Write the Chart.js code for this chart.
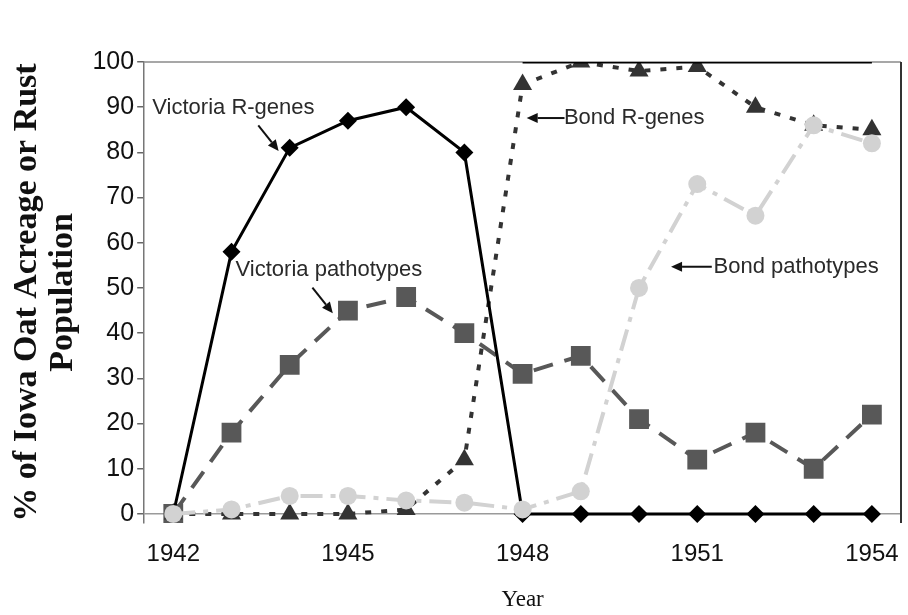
<!DOCTYPE html>
<html><head><meta charset="utf-8">
<script src="https://cdn.jsdelivr.net/npm/chart.js@4"></script>
<style>html,body{margin:0;padding:0;background:#fff}#wrap{width:908px;height:615px;position:relative}</style>
</head><body><div id="wrap"><canvas id="c"></canvas></div>
<script>
// ---- data ----
const years = ['1942','1943','1944','1945','1946','1947','1948','1949','1950','1951','1952','1953','1954'];
const xTickEvery = 3;
const yTickValues = [0,10,20,30,40,50,60,70,80,90,100];
const victoriaRGenes     = [0,58,81,87,90,80,0,0,0,0,0,0,0];
const victoriaPathotypes = [0,18,33,45,48,40,31,35,21,12,18,10,22];
const bondRGenes         = [0,0,0,0,1,12,95,100,98,99,90,86,85];
const bondPathotypes     = [0,1,4,4,3,2.5,1,5,50,73,66,86,82];
const topLine            = [null,null,null,null,null,null,100,100,100,100,100,100,100];

// ---- annotations (category index, value) ----
const noteTexts = ['Victoria R-genes','Victoria pathotypes','Bond R-genes','Bond pathotypes'];
const noteAt    = [[-0.36,89.8],[1.07,54.1],[6.71,87.6],[9.28,54.7]];
const arrowFrom = [[1.46,86.0],[2.39,50.1],[6.72,87.6],[9.25,54.7]];
const arrowTo   = [[1.81,80.3],[2.74,44.4],[6.07,87.6],[8.55,54.7]];

const annotationPlugin = {
  id: 'notes',
  afterDatasetsDraw(chart) {
    const {ctx, scales:{x, y}} = chart;
    ctx.save();
    ctx.font = '22px "Liberation Sans", Arial, sans-serif';
    ctx.fillStyle = '#2a2a2a';
    ctx.textBaseline = 'middle';
    ctx.textAlign = 'left';
    noteTexts.forEach((t, i) => {
      ctx.fillText(t, x.getPixelForValue(noteAt[i][0]), y.getPixelForValue(noteAt[i][1]));
    });
    ctx.strokeStyle = '#111';
    ctx.fillStyle = '#111';
    ctx.lineWidth = 2;
    arrowFrom.forEach((f, i) => {
      const x1 = x.getPixelForValue(f[0]), y1 = y.getPixelForValue(f[1]);
      const x2 = x.getPixelForValue(arrowTo[i][0]), y2 = y.getPixelForValue(arrowTo[i][1]);
      const a = Math.atan2(y2 - y1, x2 - x1);
      const hl = 11, hw = 5;
      const bx = x2 - hl * Math.cos(a), by = y2 - hl * Math.sin(a);
      ctx.beginPath(); ctx.moveTo(x1, y1); ctx.lineTo(bx, by); ctx.stroke();
      ctx.beginPath();
      ctx.moveTo(x2, y2);
      ctx.lineTo(bx + hw * Math.sin(a), by - hw * Math.cos(a));
      ctx.lineTo(bx - hw * Math.sin(a), by + hw * Math.cos(a));
      ctx.closePath(); ctx.fill();
    });
    ctx.restore();
  }
};

const framePlugin = {
  id: 'frame',
  beforeDatasetsDraw(chart) {
    const {ctx, chartArea:a} = chart;
    ctx.save();
    ctx.strokeStyle = '#8a8a8a';
    ctx.lineWidth = 1.5;
    ctx.beginPath();
    ctx.moveTo(a.left, a.top); ctx.lineTo(a.right, a.top); ctx.stroke();
    ctx.strokeStyle = '#333';
    ctx.lineWidth = 2;
    ctx.beginPath();
    ctx.moveTo(a.right, a.top); ctx.lineTo(a.right, a.bottom); ctx.stroke();
    ctx.restore();
  }
};

new Chart(document.getElementById('c'), {
  type: 'line',
  data: {
    labels: years,
    datasets: [
      { label: 'Bond pathotypes', data: bondPathotypes, order: 0,
        borderColor: '#d2d2d2', backgroundColor: '#d2d2d2', borderWidth: 4,
        borderDash: [22, 8, 5, 8], pointStyle: 'circle', pointRadius: 9,
        pointBorderWidth: 0, pointBackgroundColor: '#d2d2d2' },
      { label: 'Victoria R-genes', data: victoriaRGenes, order: 1,
        borderColor: '#000', backgroundColor: '#000', borderWidth: 3,
        pointStyle: 'rectRot', pointRadius: 9, pointBorderWidth: 0, pointBackgroundColor: '#000' },
      { label: 'Top', data: topLine, order: 2,
        borderColor: '#000', borderWidth: 3, pointRadius: 0 },
      { label: 'Bond R-genes', data: bondRGenes, order: 3,
        borderColor: '#333', backgroundColor: '#333', borderWidth: 4,
        borderDash: [6, 10], pointStyle: 'triangle', pointRadius: 11,
        pointBorderWidth: 0, pointBackgroundColor: '#333' },
      { label: 'Victoria pathotypes', data: victoriaPathotypes, order: 4,
        borderColor: '#585858', backgroundColor: '#585858', borderWidth: 4,
        borderDash: [20, 12], pointStyle: 'rect', pointRadius: 14,
        pointBorderWidth: 0, pointBackgroundColor: '#585858' }
    ]
  },
  options: {
    responsive: true, maintainAspectRatio: false, animation: false,
    layout: { autoPadding: false, padding: { left: 8.7, right: 7, top: 62, bottom: 1 } },
    plugins: { legend: { display: false }, tooltip: { enabled: false } },
    scales: {
      x: {
        offset: true,
        grid: { display: true, drawOnChartArea: false, drawTicks: true, tickLength: 8, color: 'rgba(0,0,0,0)' },
        border: { display: false },
        ticks: {
          autoSkip: false, maxRotation: 0, padding: 9, color: '#111',
          font: { family: '"Liberation Sans", Arial, sans-serif', size: 24 },
          callback: (v, i) => (i % xTickEvery === 0 ? years[i] : '')
        },
        title: { display: true, text: 'Year', color: '#111', padding: { top: 8.6, bottom: 0 },
          font: { family: '"Liberation Serif", "Times New Roman", serif', size: 23 } }
      },
      y: {
        min: -2, max: 100,
        afterBuildTicks: axis => { axis.ticks = yTickValues.map(v => ({ value: v })); },
        grid: {
          color: c => (c.tick && c.tick.value === 0 ? '#9a9a9a' : 'rgba(0,0,0,0)'),
          tickColor: '#666', tickLength: 7, lineWidth: 1.5
        },
        border: { display: true, color: '#777', width: 1.5 },
        ticks: { color: '#111', padding: 3,
          font: { family: '"Liberation Sans", Arial, sans-serif', size: 25 } },
        title: { display: true, text: ['% of Iowa Oat Acreage or Rust', 'Population'], color: '#111',
          padding: { top: 0, bottom: 8 },
          font: { family: '"Liberation Serif", "Times New Roman", serif', size: 34, weight: 'bold', lineHeight: 1.07 } }
      }
    }
  },
  plugins: [framePlugin, annotationPlugin]
});
</script></body></html>
